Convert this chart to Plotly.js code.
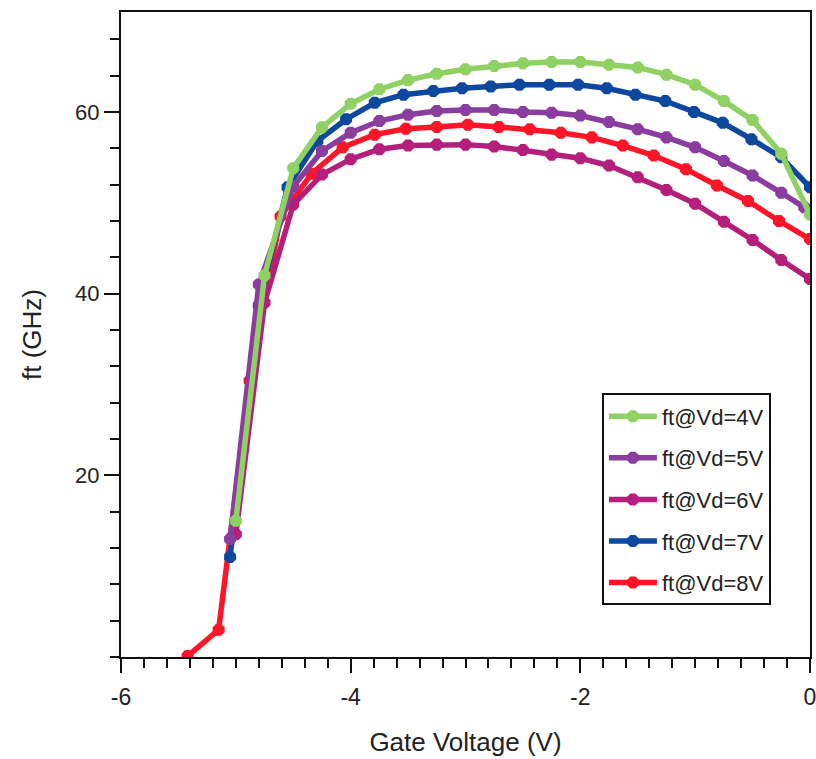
<!DOCTYPE html>
<html>
<head>
<meta charset="utf-8">
<script src="https://cdn.plot.ly/plotly-3.0.1.min.js"></script>
<style>html,body{margin:0;padding:0;background:#fff;}#chart{width:816px;height:759px;}</style>
</head>
<body>
<div id="chart"></div>
<script>
// Gate voltage (V) and ft (GHz) per drain voltage
const seriesNames = ["ft@Vd=4V", "ft@Vd=5V", "ft@Vd=6V", "ft@Vd=7V", "ft@Vd=8V"];

const vg4 = [-5.0, -4.75, -4.5, -4.25, -4.0, -3.75, -3.5, -3.25, -3.0, -2.75, -2.5, -2.25, -2.0, -1.75, -1.5, -1.25, -1.0, -0.75, -0.5, -0.25, 0.0];
const ft4 = [15.0, 42.0, 53.8, 58.3, 60.9, 62.5, 63.5, 64.2, 64.7, 65.05, 65.35, 65.5, 65.5, 65.2, 64.9, 64.1, 63.0, 61.2, 59.1, 55.4, 48.7];

const vg5 = [-5.05, -4.8, -4.5, -4.25, -4.0, -3.75, -3.5, -3.25, -3.0, -2.75, -2.5, -2.25, -2.0, -1.75, -1.5, -1.25, -1.0, -0.75, -0.5, -0.25, -0.05];
const ft5 = [13.0, 41.0, 51.8, 55.7, 57.7, 59.0, 59.7, 60.1, 60.2, 60.2, 60.0, 59.9, 59.6, 58.9, 58.1, 57.2, 56.1, 54.6, 53.0, 51.1, 49.5];

const vg6 = [-5.0, -4.75, -4.5, -4.25, -4.0, -3.75, -3.5, -3.25, -3.0, -2.75, -2.5, -2.25, -2.0, -1.75, -1.5, -1.25, -1.0, -0.75, -0.5, -0.25, 0.0];
const ft6 = [13.5, 39.0, 49.8, 53.1, 54.8, 55.9, 56.3, 56.4, 56.4, 56.2, 55.8, 55.3, 54.9, 54.1, 52.8, 51.4, 49.9, 47.9, 45.9, 43.7, 41.6];

const vg7 = [-5.05, -4.8, -4.55, -4.29, -4.04, -3.79, -3.54, -3.28, -3.03, -2.78, -2.53, -2.27, -2.02, -1.77, -1.52, -1.26, -1.01, -0.76, -0.51, -0.25, 0.0];
const ft7 = [11.0, 38.7, 51.7, 56.8, 59.2, 61.0, 61.9, 62.3, 62.6, 62.8, 63.0, 63.0, 63.0, 62.6, 61.9, 61.2, 60.0, 58.8, 57.0, 55.0, 51.7];

const vg8 = [-5.42, -5.15, -4.88, -4.61, -4.34, -4.07, -3.79, -3.52, -3.25, -2.98, -2.71, -2.44, -2.17, -1.9, -1.63, -1.36, -1.08, -0.81, -0.54, -0.27, 0.0];
const ft8 = [0.1, 3.0, 30.4, 48.5, 53.2, 56.1, 57.5, 58.15, 58.35, 58.6, 58.35, 58.1, 57.7, 57.2, 56.3, 55.2, 53.7, 51.9, 50.2, 48.0, 46.0];

const xTickVals = [-6, -4, -2, 0];
const xTickText = ["-6", "-4", "-2", "0"];
const yTickVals = [20, 40, 60];
const yTickText = ["20", "40", "60"];

const colors = ["#8fd162", "#8a3d9e", "#b51f7c", "#0d489e", "#ff1428"];
const xs = [vg4, vg5, vg6, vg7, vg8];
const ys = [ft4, ft5, ft6, ft7, ft8];

const traces = [];
// draw 8V first so 4V ends on top; legend order fixed by legendrank
for (let i = seriesNames.length - 1; i >= 0; i--) {
  traces.push({
    type: "scatter",
    mode: "lines+markers",
    x: xs[i],
    y: ys[i],
    name: seriesNames[i],
    legendgroup: "g" + i,
    legendrank: i + 1,
    line: {color: colors[i], width: 5.5},
    marker: {color: colors[i], size: 13, symbol: "octagon", line: {width: 0}}
  });
}

const fontFam = "Liberation Sans, Arial, sans-serif";
const layout = {
  width: 816, height: 759,
  margin: {l: 121, r: 6, t: 12, b: 102},
  paper_bgcolor: "#ffffff",
  plot_bgcolor: "#ffffff",
  showlegend: true,
  legend: {
    x: 0.698, y: 0.08, xanchor: "left", yanchor: "bottom",
    bgcolor: "#ffffff", bordercolor: "#111", borderwidth: 2,
    font: {family: fontFam, size: 22, color: "#222"},
    traceorder: "grouped",
    tracegroupgap: 10,
    itemwidth: 48
  },
  xaxis: {
    range: [-6, 0],
    tickmode: "array", tickvals: xTickVals, ticktext: xTickText,
    ticks: "outside", ticklen: 14, tickwidth: 2, tickcolor: "#111",
    ticklabelstandoff: 4,
    ticklabeloverflow: "allow",
    minor: {dtick: 0.2, tick0: 0, ticks: "outside", ticklen: 9, tickwidth: 2, tickcolor: "#111", showgrid: false},
    showline: true, linewidth: 2, linecolor: "#111", mirror: true,
    showgrid: false, zeroline: false,
    tickfont: {family: fontFam, size: 23, color: "#222"},
    title: {text: "Gate Voltage (V)", font: {family: fontFam, size: 26, color: "#222"}, standoff: 24}
  },
  yaxis: {
    range: [0, 71],
    tickmode: "array", tickvals: yTickVals, ticktext: yTickText,
    ticks: "outside", ticklen: 15, tickwidth: 2, tickcolor: "#111",
    minor: {dtick: 4, tick0: 0, ticks: "outside", ticklen: 9, tickwidth: 2, tickcolor: "#111", showgrid: false},
    showline: true, linewidth: 2, linecolor: "#111", mirror: true,
    showgrid: false, zeroline: false,
    tickfont: {family: fontFam, size: 22, color: "#222"},
    title: {text: "ft (GHz)", font: {family: fontFam, size: 26, color: "#222"}, standoff: 26}
  }
};

Plotly.newPlot("chart", traces, layout, {displayModeBar: false, staticPlot: true});
</script>
</body>
</html>
